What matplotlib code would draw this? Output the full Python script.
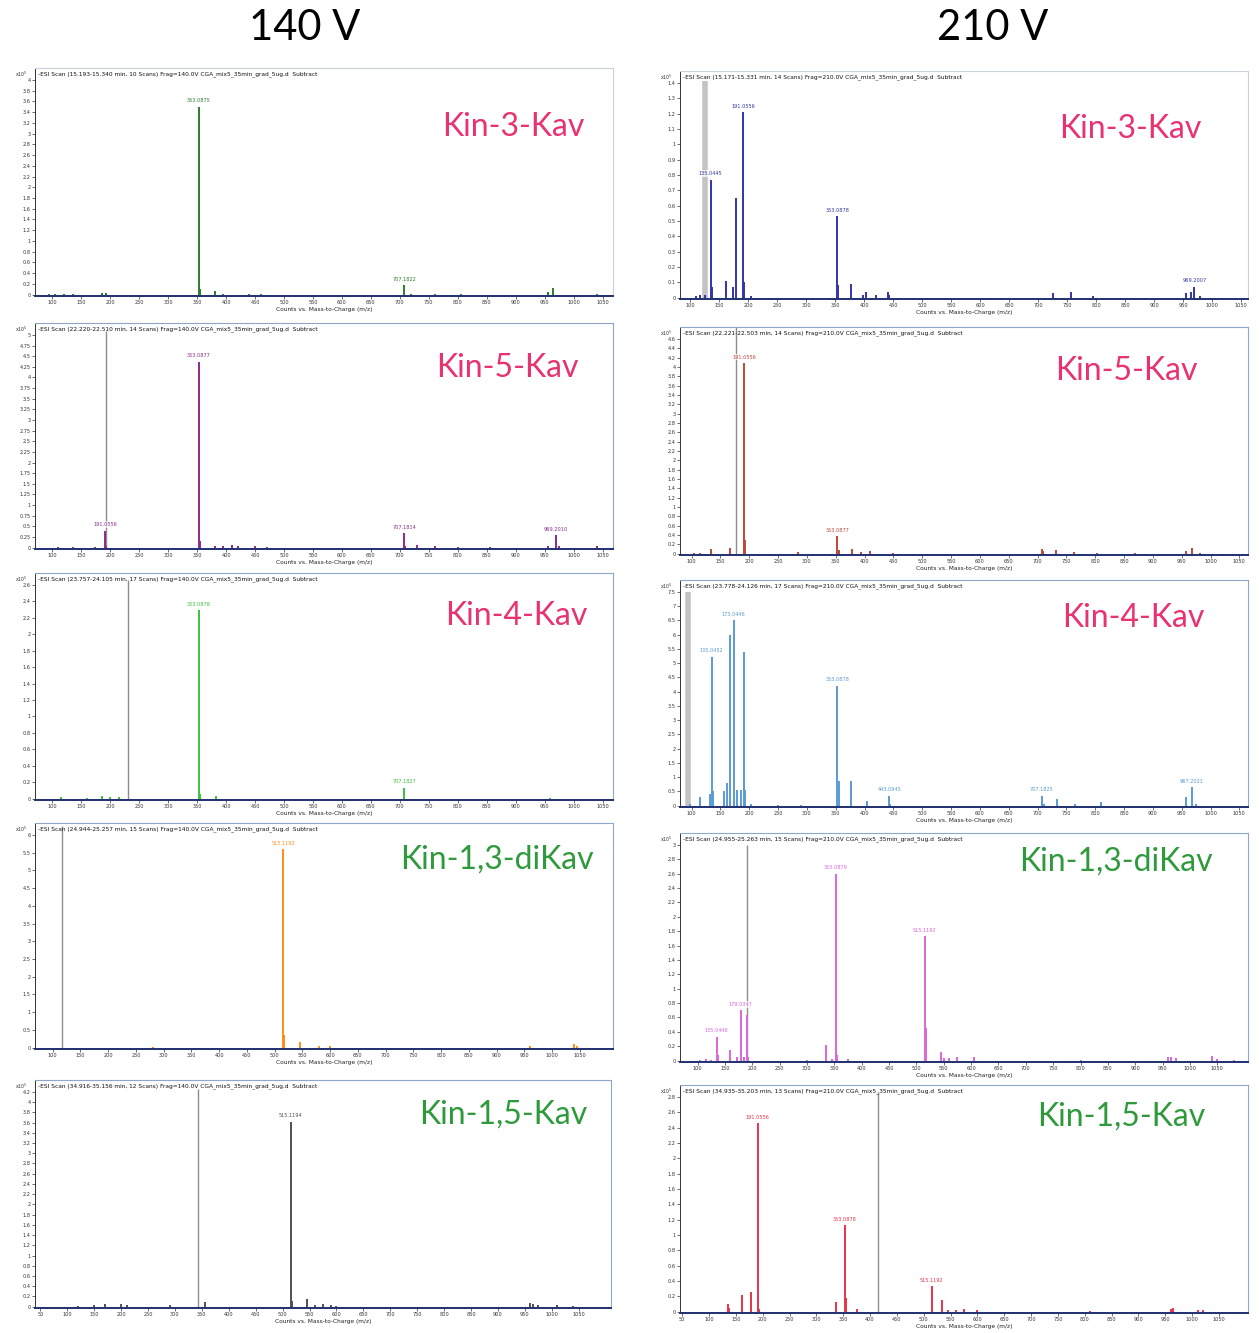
import numpy as np
import matplotlib
matplotlib.use("Agg")
import matplotlib.pyplot as plt

W, H = 1259, 1333

# ---------------------------------------------------------------
# spectra (m/z, intensity), peak labels, marker line, y ticks
# 140 V column
k3_140_mz  = [95, 105, 120, 135, 185, 193, 353.09, 355, 381, 395, 440, 460, 707.18, 720, 760, 805, 955, 964, 1040]
k3_140_int = [0.02, 0.02, 0.01, 0.02, 0.03, 0.03, 3.5, 0.1, 0.06, 0.02, 0.02, 0.02, 0.18, 0.02, 0.02, 0.02, 0.05, 0.12, 0.02]
k3_140_lab = {353.09: "353.0875", 707.18: "707.1822"}

k5_140_mz  = [110, 135, 173, 191.06, 193, 353.09, 355, 380, 395, 410, 420, 450, 470, 707.18, 709, 730, 760, 800, 855, 955, 969.2, 975, 1040]
k5_140_int = [0.02, 0.02, 0.02, 0.4, 0.05, 4.37, 0.15, 0.05, 0.04, 0.06, 0.03, 0.03, 0.02, 0.34, 0.05, 0.06, 0.03, 0.02, 0.02, 0.05, 0.29, 0.04, 0.03]
k5_140_lab = {191.06: "191.0556", 353.09: "353.0877", 707.18: "707.1814", 969.2: "969.2010"}

k4_140_mz  = [115, 160, 185, 200, 215, 353.09, 355, 382, 707.18, 960]
k4_140_int = [0.02, 0.01, 0.03, 0.02, 0.02, 2.29, 0.06, 0.03, 0.13, 0.01]
k4_140_lab = {353.09: "353.0878", 707.18: "707.1827"}

k13_140_mz  = [280, 515.12, 517, 545, 580, 600, 960, 1040, 1045]
k13_140_int = [0.02, 5.6, 0.35, 0.15, 0.04, 0.06, 0.05, 0.1, 0.05]
k13_140_lab = {515.12: "515.1192"}

k15_140_mz  = [120, 150, 170, 200, 210, 290, 355, 515.12, 518, 545, 560, 575, 590, 600, 960, 965, 975, 1010, 1040]
k15_140_int = [0.02, 0.03, 0.05, 0.05, 0.03, 0.03, 0.1, 3.62, 0.12, 0.15, 0.04, 0.06, 0.03, 0.02, 0.08, 0.05, 0.03, 0.04, 0.02]
k15_140_lab = {515.12: "515.1194"}

# 210 V column
k3_210_mz  = [110, 117, 125, 135.04, 137, 161, 173, 179.03, 191.06, 193, 205, 353.09, 355, 377, 397, 403, 420, 441, 443, 725, 757, 795, 955, 963, 969.2, 980]
k3_210_int = [0.01, 0.015, 0.02, 0.77, 0.07, 0.11, 0.07, 0.65, 1.21, 0.1, 0.01, 0.53, 0.08, 0.09, 0.02, 0.035, 0.015, 0.04, 0.02, 0.03, 0.035, 0.01, 0.03, 0.04, 0.07, 0.01]
k3_210_lab = {135.04: "135.0445", 191.06: "191.0556", 353.09: "353.0878", 969.2: "969.2007"}

k5_210_mz  = [105, 115, 133, 166, 191.06, 193, 285, 353.09, 355, 378, 394, 409, 449, 708, 710, 732, 763, 804, 869, 958, 968, 982]
k5_210_int = [0.02, 0.02, 0.1, 0.13, 4.08, 0.3, 0.03, 0.37, 0.08, 0.1, 0.03, 0.05, 0.01, 0.1, 0.05, 0.07, 0.03, 0.02, 0.01, 0.06, 0.12, 0.02]
k5_210_lab = {191.06: "191.0556", 353.09: "353.0877"}

k4_210_mz  = [97, 114, 131.5, 135.05, 138, 157, 161, 167, 173.04, 179, 185, 191.06, 193, 203, 250, 290, 353.09, 355, 377, 405, 443.09, 445, 707.18, 712, 733, 765, 810, 958, 967.2, 975]
k4_210_int = [0.05, 0.3, 0.4, 5.22, 0.5, 0.5, 0.8, 6.0, 6.5, 0.55, 0.55, 5.4, 0.55, 0.05, 0.02, 0.03, 4.2, 0.85, 0.85, 0.15, 0.35, 0.05, 0.35, 0.05, 0.25, 0.07, 0.12, 0.3, 0.65, 0.05]
k4_210_lab = {135.05: "135.0452", 173.04: "173.0446", 353.09: "353.0878", 443.09: "443.0945", 707.18: "707.1825", 967.2: "967.2021"}

k13_210_mz  = [105, 115, 125, 135.04, 137, 160, 173, 179.03, 185, 191.06, 193, 300, 335, 345, 353.09, 355, 375, 515.12, 517, 545, 550, 560, 575, 605, 800, 960, 965, 975, 1040, 1050, 1080]
k13_210_int = [0.01, 0.02, 0.01, 0.33, 0.08, 0.15, 0.05, 0.7, 0.05, 0.63, 0.05, 0.01, 0.22, 0.02, 2.6, 0.08, 0.02, 1.73, 0.45, 0.12, 0.04, 0.03, 0.05, 0.05, 0.01, 0.05, 0.05, 0.03, 0.06, 0.02, 0.01]
k13_210_lab = {135.04: "135.0446", 179.03: "179.0347", 353.09: "353.0879", 515.12: "515.1192"}

k15_210_mz  = [135, 137, 161, 179, 191.06, 193, 337, 353.09, 355, 375, 515.12, 534, 545, 560, 575, 600, 810, 960, 965, 1010, 1020]
k15_210_int = [0.1, 0.05, 0.22, 0.25, 2.46, 0.03, 0.12, 1.13, 0.18, 0.03, 0.33, 0.15, 0.02, 0.02, 0.04, 0.02, 0.01, 0.04, 0.05, 0.02, 0.02]
k15_210_lab = {191.06: "191.0556", 353.09: "353.0878", 515.12: "515.1192"}

# grey marker line (m/z, height), None = no line
marker_140 = [None, (192, 5.1), (230, 2.66), (116, 6.26), (343, 4.25)]
marker_210 = [(125, 1.41), (177, 4.95), (94, 7.5), (191, 3.0), (415, 2.86)]

ytop_140 = [4.0, 5.0, 2.6, 6.0, 4.2]
ystep_140 = [0.2, 0.25, 0.2, 0.5, 0.2]
ytop_210 = [1.4, 4.6, 7.5, 3.0, 2.8]
ystep_210 = [0.1, 0.2, 0.5, 0.2, 0.2]

xlim_140 = [(70, 1068), (70, 1068), (70, 1068), (68, 1110), (40, 1110)]
xlim_210 = [(82, 1062), (80, 1065), (80, 1065), (68, 1106), (46, 1104)]
xstart_140 = [100, 100, 100, 100, 50]
xstart_210 = [100, 100, 100, 100, 50]

scan_140 = ["15.193-15.340 min, 10 Scans", "22.220-22.510 min, 14 Scans", "23.757-24.105 min, 17 Scans",
            "24.944-25.257 min, 15 Scans", "34.916-35.156 min, 12 Scans"]
scan_210 = ["15.171-15.331 min, 14 Scans", "22.221-22.503 min, 14 Scans", "23.778-24.126 min, 17 Scans",
            "24.955-25.263 min, 15 Scans", "34.935-35.203 min, 13 Scans"]

names = ["Kin-3-Kav", "Kin-5-Kav", "Kin-4-Kav", "Kin-1,3-diKav", "Kin-1,5-Kav"]
name_cols = ["#e8336e", "#e8336e", "#e8336e", "#2f9a3c", "#2f9a3c"]
peak_col_140 = ["#2a7d2a", "#8e2a8e", "#3cc23c", "#ff8c1a", "#505050"]
peak_col_210 = ["#3434a8", "#c0453a", "#5b9bd5", "#dd66dd", "#e8334a"]

spectra_140 = [(k3_140_mz, k3_140_int, k3_140_lab), (k5_140_mz, k5_140_int, k5_140_lab),
               (k4_140_mz, k4_140_int, k4_140_lab), (k13_140_mz, k13_140_int, k13_140_lab),
               (k15_140_mz, k15_140_int, k15_140_lab)]
spectra_210 = [(k3_210_mz, k3_210_int, k3_210_lab), (k5_210_mz, k5_210_int, k5_210_lab),
               (k4_210_mz, k4_210_int, k4_210_lab), (k13_210_mz, k13_210_int, k13_210_lab),
               (k15_210_mz, k15_210_int, k15_210_lab)]

# ---------------------------------------------------------------
# layout in pixels: (x0, frame top, x1, baseline), name position
box_140 = [(35, 68, 613, 296), (35, 323, 613, 549), (35, 573, 613, 800), (35, 823, 613, 1049), (35, 1080, 611, 1308)]
box_210 = [(680, 71, 1248, 299), (680, 327, 1248, 555), (680, 580, 1248, 807), (680, 833, 1248, 1062), (680, 1085, 1248, 1313)]
name_pos_140 = [(513, 127), (507, 368), (516, 616), (497, 860), (503, 1115)]
name_pos_210 = [(1130, 129), (1126, 371), (1133, 618), (1116, 862), (1121, 1117)]

fig = plt.figure(figsize=(W / 100, H / 100), dpi=100)
fig.patch.set_facecolor("white")

fig.text(305 / W, 1 - 28 / H, "140 V", fontsize=30, family="Lato", ha="center", va="center")
fig.text(993 / W, 1 - 28 / H, "210 V", fontsize=30, family="Lato", ha="center", va="center")


def fmt(v):
    return ("%.2f" % v).rstrip("0").rstrip(".")


def panel(box, spec, col, marker, ytop, ystep, xlim, xstart, scan, frag, name, ncol, npos, first):
    x0, yt, x1, yb = box
    mz, inten, lab = spec
    ax = fig.add_axes([x0 / W, 1 - yb / H, (x1 - x0) / W, (yb - yt) / H])
    unit = (yb - yt - 12) / (ytop * 1.0)
    ymax = (yb - yt) / unit * (1.0 if ytop else 1)
    ax.set_ylim(-ymax * 0.006, ymax)
    ax.set_xlim(*xlim)

    if marker is not None:
        big = frag == "210" and marker[0] < 130
        ax.vlines(marker[0], 0, marker[1], color="#c4c4c4" if big else "#8c8c8c",
                  lw=4 if big else 1.0, zorder=1)
    ax.vlines(mz, 0, inten, color=col, lw=1.4, zorder=2)
    for m, t in lab.items():
        h = inten[mz.index(m)]
        ax.annotate(t, (m, h), xytext=(0, 2.5), textcoords="offset points",
                    ha="center", va="bottom", fontsize=3.6, color=col,
                    bbox=dict(boxstyle="square,pad=0.15", fc="white", ec="none", alpha=0.7))

    yt_vals = np.round(np.arange(0, ytop + ystep / 2, ystep), 3)
    ax.set_yticks(yt_vals)
    ax.set_yticklabels([fmt(v) for v in yt_vals])
    xt = np.arange(xstart, 1051, 50)
    ax.set_xticks(xt)
    ax.set_xticklabels([str(v) for v in xt])
    ax.tick_params(labelsize=3.6, length=2, width=0.5, pad=1, colors="#333333")
    ax.set_xlabel("Counts vs. Mass-to-Charge (m/z)", fontsize=4.2, labelpad=1, color="#222222")

    edge = "#c9d1dc" if first else "#8ea6c8"
    for s in ("top", "right"):
        ax.spines[s].set_color(edge)
        ax.spines[s].set_linewidth(0.8)
    ax.spines["left"].set_color("#333333")
    ax.spines["left"].set_linewidth(0.7)
    ax.spines["bottom"].set_color("#1f2f6f")
    ax.spines["bottom"].set_linewidth(1.4)

    fig.text((x0 - 20) / W, 1 - (yt + 6) / H, r"x10$^{5}$", fontsize=3.4, va="center", color="#333333")
    fig.text((x0 + 3) / W, 1 - (yt + 6) / H,
             "-ESI Scan (%s) Frag=%s.0V CGA_mix5_35min_grad_5ug.d  Subtract" % (scan, frag),
             fontsize=4.2, va="center", color="#111111")
    fig.text(npos[0] / W, 1 - npos[1] / H, name, fontsize=23, family="Lato",
             color=ncol, ha="center", va="center")


for i in range(5):
    panel(box_140[i], spectra_140[i], peak_col_140[i], marker_140[i], ytop_140[i], ystep_140[i],
          xlim_140[i], xstart_140[i], scan_140[i], "140", names[i], name_cols[i], name_pos_140[i], i == 0)
    panel(box_210[i], spectra_210[i], peak_col_210[i], marker_210[i], ytop_210[i], ystep_210[i],
          xlim_210[i], xstart_210[i], scan_210[i], "210", names[i], name_cols[i], name_pos_210[i], i == 0)

fig.savefig("out.png", dpi=100)
